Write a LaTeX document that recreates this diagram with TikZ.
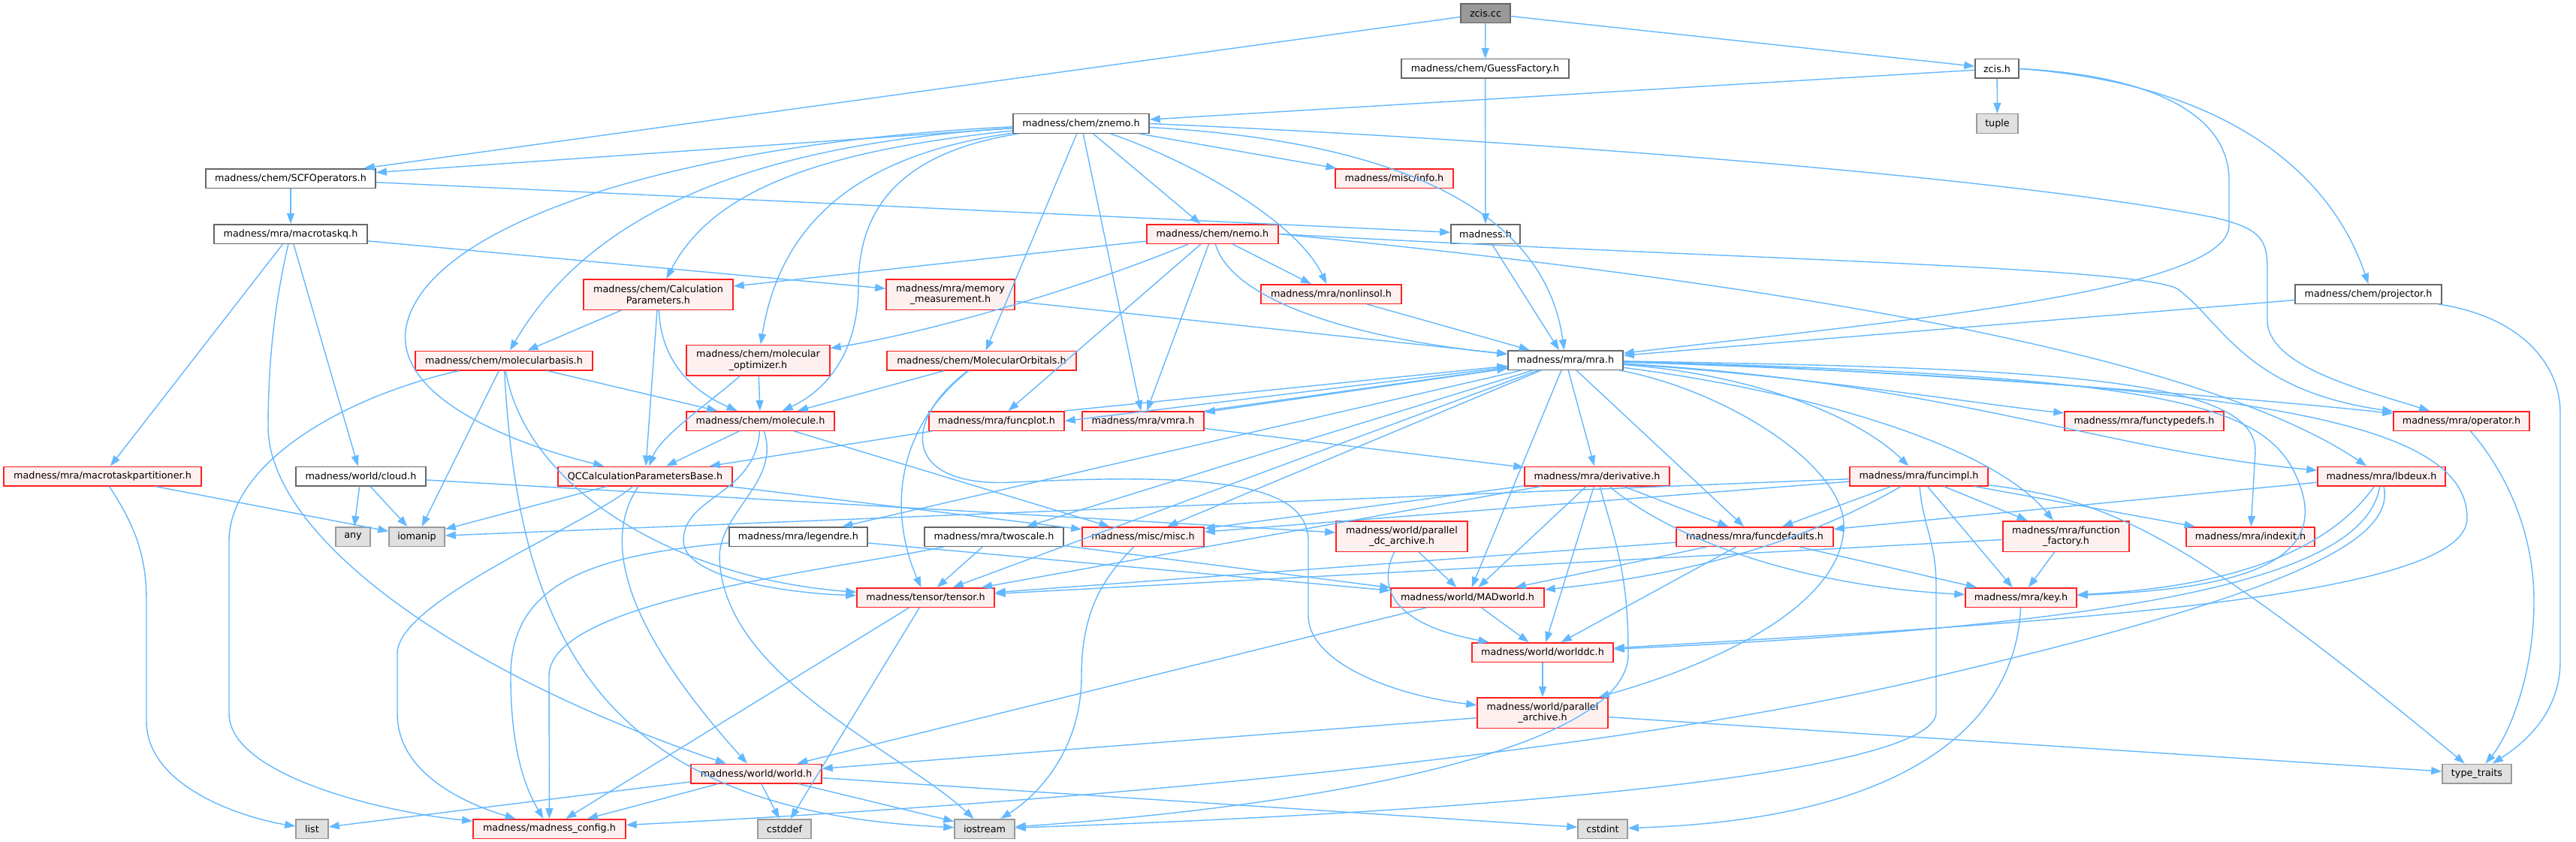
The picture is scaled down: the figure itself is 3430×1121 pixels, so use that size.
\documentclass[tikz,border=0pt]{standalone}
\usepackage{fontspec}
\setmainfont{DejaVu Sans}
\usetikzlibrary{arrows.meta}
\definecolor{edgec}{HTML}{63B8FF}
\definecolor{greyforty}{HTML}{666666}
\definecolor{greysixty}{HTML}{999999}
\definecolor{truncfill}{HTML}{FFF0F0}
\definecolor{extfill}{HTML}{E0E0E0}
\definecolor{truncdraw}{HTML}{FF2020}
\tikzset{
 nd/.style={draw=greyforty, fill=white, line width=1.5pt, minimum height=25.5pt, inner xsep=2pt, inner ysep=1pt, align=center, font=\fontsize{12.75pt}{14.5pt}\selectfont},
 rootnd/.style={nd, fill=greysixty},
 trunc/.style={nd, draw=truncdraw, fill=truncfill},
 ext/.style={nd, draw=greysixty, fill=extfill},
 two/.style={minimum height=40.5pt},
 edge/.style={draw=edgec, line width=1.4pt, -{Triangle[length=14pt,width=10pt]}},
}
\begin{document}
\begin{tikzpicture}[x=1pt,y=-1pt]
\useasboundingbox[fill=white] (0,0) rectangle (3430,1121);
% row 1-3
\node[rootnd, minimum width=66pt] (zciscc) at (1978,18) {zcis.cc};
\node[nd, minimum width=223pt] (guess) at (1977.5,91.5) {madness/chem/GuessFactory.h};
\node[nd, minimum width=58pt] (zcish) at (2659,91.5) {zcis.h};
\node[nd, minimum width=181pt] (znemo) at (1439.5,164.5) {madness/chem/znemo.h};
\node[ext, minimum width=55pt] (tuple) at (2659.5,164.5) {tuple};
\node[nd, minimum width=226pt] (scfop) at (387,237.5) {madness/chem/SCFOperators.h};
\node[trunc, minimum width=157pt] (info) at (1856.5,237.5) {madness/misc/info.h};
\node[nd, minimum width=204pt] (macrotaskq) at (387,311.5) {madness/mra/macrotaskq.h};
\node[trunc, minimum width=175pt] (nemo) at (1614.5,311.5) {madness/chem/nemo.h};
\node[nd, minimum width=92pt] (madnessh) at (1978,311.5) {madness.h};
\node[nd, minimum width=195pt] (projector) at (3153.5,391.5) {madness/chem/projector.h};
\node[trunc, two, minimum width=199pt] (calcparams) at (876.5,392) {madness/chem/Calculation\\Parameters.h};
\node[trunc, two, minimum width=171pt] (memmeas) at (1265.5,392) {madness/mra/memory\\\_measurement.h};
\node[trunc, minimum width=187pt] (nonlinsol) at (1772.5,391.5) {madness/mra/nonlinsol.h};
\node[trunc, minimum width=236pt] (molbasis) at (671,480) {madness/chem/molecularbasis.h};
\node[trunc, two, minimum width=191pt] (molopt) at (1009.5,479.5) {madness/chem/molecular\\\_optimizer.h};
\node[trunc, minimum width=252pt] (molorb) at (1307,480) {madness/chem/MolecularOrbitals.h};
\node[nd, minimum width=153pt] (mra) at (2084.5,479.5) {madness/mra/mra.h};
\node[trunc, minimum width=197pt] (molecule) at (1012.5,560.5) {madness/chem/molecule.h};
\node[trunc, minimum width=180pt] (funcplot) at (1327,560.5) {madness/mra/funcplot.h};
\node[trunc, minimum width=162pt] (vmra) at (1522,560.5) {madness/mra/vmra.h};
\node[trunc, minimum width=212pt] (functypedefs) at (2855,560.5) {madness/mra/functypedefs.h};
\node[trunc, minimum width=181pt] (operator) at (3277.5,560.5) {madness/mra/operator.h};
\node[trunc, minimum width=263pt] (mtpart) at (136.5,634) {madness/mra/macrotaskpartitioner.h};
\node[nd, minimum width=173pt] (cloud) at (480.5,634) {madness/world/cloud.h};
\node[trunc, minimum width=232pt] (qcbase) at (859,634) {QCCalculationParametersBase.h};
\node[trunc, minimum width=193pt] (derivative) at (2126.5,634) {madness/mra/derivative.h};
\node[trunc, minimum width=184pt] (funcimpl) at (2555,634) {madness/mra/funcimpl.h};
\node[trunc, minimum width=170pt] (lbdeux) at (3171,634) {madness/mra/lbdeux.h};
\node[ext, minimum width=46pt] (any) at (470,714.5) {any};
\node[ext, minimum width=74pt] (iomanip) at (555,714.5) {iomanip};
\node[nd, minimum width=184pt] (legendre) at (1063,714.5) {madness/mra/legendre.h};
\node[nd, minimum width=185pt] (twoscale) at (1323.5,714.5) {madness/mra/twoscale.h};
\node[trunc, minimum width=162pt] (misc) at (1522,714.5) {madness/misc/misc.h};
\node[trunc, two, minimum width=175pt] (pdcarchive) at (1866.5,714) {madness/world/parallel\\\_dc\_archive.h};
\node[trunc, minimum width=209pt] (funcdefaults) at (2336.5,714.5) {madness/mra/funcdefaults.h};
\node[trunc, two, minimum width=168pt] (funcfactory) at (2751,714) {madness/mra/function\\\_factory.h};
\node[trunc, minimum width=171pt] (indexit) at (2996.5,714.5) {madness/mra/indexit.h};
\node[trunc, minimum width=183pt] (tensor) at (1232.5,795.5) {madness/tensor/tensor.h};
\node[trunc, minimum width=204pt] (madworld) at (1954,795.5) {madness/world/MADworld.h};
\node[trunc, minimum width=148pt] (key) at (2691,795.5) {madness/mra/key.h};
\node[trunc, minimum width=188pt] (worlddc) at (2054,868.5) {madness/world/worlddc.h};
\node[trunc, two, minimum width=174pt] (parchive) at (2054,949) {madness/world/parallel\\\_archive.h};
\node[trunc, minimum width=174pt] (world) at (1007,1030) {madness/world/world.h};
\node[ext, minimum width=92pt] (typetraits) at (3298,1030) {type\_traits};
\node[ext, minimum width=43pt] (list) at (415.5,1103.5) {list};
\node[trunc, minimum width=203pt] (config) at (731.5,1103.5) {madness/madness\_config.h};
\node[ext, minimum width=71pt] (cstddef) at (1044.5,1103.5) {cstddef};
\node[ext, minimum width=80pt] (iostream) at (1311,1103.5) {iostream};
\node[ext, minimum width=66pt] (cstdint) at (2134,1103.5) {cstdint};

% ---- edges ----
\draw[edge] (zciscc) -- (guess);
\draw[edge] (zciscc) -- (scfop);
\draw[edge] (zciscc) -- (zcish);
\draw[edge] (guess) -- (madnessh);
\draw[edge] (zcish) -- (znemo);
\draw[edge] (zcish) -- (tuple);
\draw[edge] (zcish.east) .. controls (2860,100) and (2968,150) .. (2968,240) -- (2968,300) .. controls (2968,390) and (2500,430) .. (mra);
\draw[edge] (zcish.east) .. controls (2950,110) and (3100,220) .. (projector.north);
% znemo
\draw[edge] (znemo) -- (scfop);
\draw[edge] (znemo) .. controls (900,190) and (560,300) .. (540,440) .. controls (530,530) and (680,590) .. (qcbase);
\draw[edge] (znemo) .. controls (1050,190) and (800,260) .. (molbasis);
\draw[edge] (znemo) .. controls (1100,200) and (950,250) .. (calcparams);
\draw[edge] (znemo) .. controls (1150,205) and (1040,290) .. (molopt);
\draw[edge] (znemo) .. controls (1220,200) and (1143,260) .. (1143,380) .. controls (1143,470) and (1100,520) .. (molecule);
\draw[edge] (znemo) -- (molorb);
\draw[edge] (znemo) -- (vmra);
\draw[edge] (znemo) -- (nemo);
\draw[edge] (znemo) .. controls (1600,220) and (1730,300) .. (nonlinsol);
\draw[edge] (znemo) -- (info);
\draw[edge] (znemo.east) .. controls (2100,190) and (2700,240) .. (2950,290) .. controls (3012,305) and (3019,320) .. (3019,360) -- (3019,430) .. controls (3025,490) and (3150,520) .. (operator);
\draw[edge] (znemo) .. controls (1900,190) and (2060,300) .. (mra);
% scfop, macrotaskq
\draw[edge] (scfop) -- (macrotaskq);
\draw[edge] (scfop) -- (madnessh);
\draw[edge] (macrotaskq) -- (mtpart);
\draw[edge] (macrotaskq) -- (cloud);
\draw[edge] (macrotaskq) -- (memmeas);
\draw[edge] (macrotaskq) .. controls (362,420) and (357,500) .. (357,570) .. controls (360,720) and (620,900) .. (world);
% nemo
\draw[edge] (nemo) -- (calcparams);
\draw[edge] (nemo) .. controls (1450,380) and (1250,440) .. (molopt);
\draw[edge] (nemo) -- (funcplot);
\draw[edge] (nemo) -- (vmra);
\draw[edge] (nemo) .. controls (1640,400) and (1800,450) .. (mra);
\draw[edge] (nemo) -- (nonlinsol);
\draw[edge] (nemo.east) .. controls (2300,345) and (2850,355) .. (2900,385) .. controls (2960,430) and (2990,520) .. (operator);
\draw[edge] (nemo.east) .. controls (2200,360) and (2900,450) .. (lbdeux);
\draw[edge] (madnessh) -- (mra);
\draw[edge] (projector) -- (mra);
\draw[edge] (projector) .. controls (3350,420) and (3409,480) .. (3409,550) -- (3409,880) .. controls (3409,950) and (3360,990) .. (typetraits);
% row calcparams
\draw[edge] (calcparams) -- (molbasis);
\draw[edge] (calcparams) -- (qcbase);
\draw[edge] (calcparams) .. controls (880,480) and (920,520) .. (molecule);
\draw[edge] (memmeas) -- (mra);
\draw[edge] (nonlinsol) -- (mra);
% molbasis
\draw[edge] (molbasis) -- (molecule);
\draw[edge] (molbasis) -- (iomanip);
\draw[edge] (molbasis) .. controls (450,530) and (305,620) .. (305,720) -- (305,950) .. controls (305,1030) and (500,1080) .. (config);
\draw[edge] (molbasis) .. controls (700,650) and (900,770) .. (tensor);
\draw[edge] (molbasis) .. controls (690,850) and (800,1080) .. (iostream);
% molopt, molorb
\draw[edge] (molopt) -- (molecule);
\draw[edge] (molopt) .. controls (940,540) and (880,580) .. (qcbase);
\draw[edge] (molorb) -- (molecule);
\draw[edge] (molorb) .. controls (1180,580) and (1190,700) .. (tensor);
\draw[edge] (molorb) .. controls (1200,560) and (1200,650) .. (1350,642) .. controls (1600,630) and (1742,640) .. (1742,720) -- (1742,820) .. controls (1742,880) and (1850,925) .. (parchive);
% molecule
\draw[edge] (molecule) -- (qcbase);
\draw[edge] (molecule) -- (misc);
\draw[edge] (molecule) .. controls (1005,660) and (910,660) .. (910,720) .. controls (910,770) and (1050,790) .. (tensor);
\draw[edge] (molecule) .. controls (1040,640) and (960,680) .. (958,740) .. controls (960,900) and (1200,1000) .. (iostream);
% funcplot, vmra, mra cycles
\draw[edge] (funcplot) -- (qcbase);
\draw[edge] (funcplot.north east) -- (mra);
\draw[edge] (vmra.north east) -- (mra);
\draw[edge] (vmra) -- (derivative);
\draw[edge] (mra) -- (funcplot.east);
\draw[edge] (mra) -- (vmra);
% mra outgoing
\draw[edge] (mra) -- (misc);
\draw[edge] (mra) -- (tensor);
\draw[edge] (mra) -- (derivative);
\draw[edge] (mra) -- (legendre);
\draw[edge] (mra) -- (twoscale);
\draw[edge] (mra) -- (madworld);
\draw[edge] (mra) -- (funcdefaults);
\draw[edge] (mra) .. controls (2350,500) and (2480,560) .. (funcimpl);
\draw[edge] (mra) .. controls (2400,500) and (2650,540) .. (functypedefs);
\draw[edge] (mra) .. controls (2500,490) and (3000,530) .. (operator);
\draw[edge] (mra) .. controls (2600,510) and (2800,600) .. (lbdeux);
\draw[edge] (mra) .. controls (2700,490) and (3003,500) .. (3003,600) -- (indexit);
\draw[edge] (mra) .. controls (2900,500) and (3020,540) .. (3060,640) .. controls (3110,760) and (2950,785) .. (key);
\draw[edge] (mra) .. controls (3000,510) and (3285,560) .. (3285,690) .. controls (3285,800) and (2700,830) .. (worlddc);
\draw[edge] (mra) .. controls (2300,520) and (2455,620) .. (2455,700) .. controls (2455,800) and (2300,880) .. (parchive);
\draw[edge] (mra) .. controls (2400,520) and (2650,590) .. (funcfactory);
% misc, derivative, funcimpl
\draw[edge] (misc) .. controls (1480,760) and (1440,800) .. (1440,900) .. controls (1440,1000) and (1380,1060) .. (iostream);
\draw[edge] (derivative) -- (misc);
\draw[edge] (derivative) -- (tensor);
\draw[edge] (derivative) -- (madworld);
\draw[edge] (derivative) -- (worlddc);
\draw[edge] (derivative) .. controls (2230,720) and (2400,780) .. (key);
\draw[edge] (derivative) -- (funcdefaults);
\draw[edge] (derivative) .. controls (2150,720) and (2168,760) .. (2168,870) .. controls (2170,990) and (1800,1070) .. (iostream);
\draw[edge] (funcimpl) -- (misc);
\draw[edge] (funcimpl) -- (iomanip);
\draw[edge] (funcimpl) -- (funcdefaults);
\draw[edge] (funcimpl) -- (funcfactory);
\draw[edge] (funcimpl) -- (indexit);
\draw[edge] (funcimpl) -- (key);
\draw[edge] (funcimpl) .. controls (2440,700) and (2300,760) .. (madworld);
\draw[edge] (funcimpl) .. controls (2800,665) and (2900,700) .. (typetraits);
\draw[edge] (funcimpl) .. controls (2560,700) and (2578,720) .. (2578,780) -- (2578,950) .. controls (2570,1030) and (2000,1080) .. (iostream);
\draw[edge] (operator) .. controls (3330,620) and (3374,700) .. (3374,800) .. controls (3374,900) and (3340,980) .. (typetraits);
% funcdefaults, funcfactory, lbdeux
\draw[edge] (funcdefaults) -- (tensor);
\draw[edge] (funcdefaults) -- (madworld);
\draw[edge] (funcdefaults) -- (key);
\draw[edge] (funcdefaults) -- (worlddc);
\draw[edge] (funcfactory) -- (key);
\draw[edge] (funcfactory) -- (tensor);
\draw[edge] (lbdeux) -- (funcdefaults);
\draw[edge] (lbdeux) .. controls (3110,720) and (3000,780) .. (key);
\draw[edge] (lbdeux) .. controls (3150,760) and (2900,830) .. (worlddc);
\draw[edge] (lbdeux) .. controls (3190,720) and (3050,790) .. (2580,900) .. controls (2000,1040) and (1000,1090) .. (config);
% pdcarchive, cloud, mtpart, qcbase
\draw[edge] (pdcarchive) -- (madworld);
\draw[edge] (pdcarchive) .. controls (1835,780) and (1850,830) .. (worlddc);
\draw[edge] (cloud) -- (any);
\draw[edge] (cloud) -- (iomanip);
\draw[edge] (cloud) -- (pdcarchive);
\draw[edge] (mtpart) -- (iomanip);
\draw[edge] (mtpart) .. controls (180,700) and (195,740) .. (195,800) -- (195,960) .. controls (195,1050) and (330,1090) .. (list);
\draw[edge] (qcbase) -- (iomanip);
\draw[edge] (qcbase) .. controls (780,700) and (529,800) .. (529,870) -- (529,950) .. controls (529,1030) and (620,1070) .. (config);
\draw[edge] (qcbase) .. controls (815,700) and (800,800) .. (world);
\draw[edge] (qcbase) -- (misc);
% legendre, twoscale
\draw[edge] (legendre) .. controls (780,740) and (680,780) .. (680,900) .. controls (680,1000) and (700,1050) .. (config);
\draw[edge] (legendre) -- (madworld);
\draw[edge] (twoscale) .. controls (1100,760) and (731,800) .. (731,900) -- (config);
\draw[edge] (twoscale) -- (tensor);
\draw[edge] (twoscale) -- (madworld);
% bottom
\draw[edge] (tensor) -- (config);
\draw[edge] (tensor) -- (cstddef);
\draw[edge] (madworld) -- (world);
\draw[edge] (madworld) -- (worlddc);
\draw[edge] (worlddc) -- (parchive);
\draw[edge] (parchive) -- (typetraits);
\draw[edge] (parchive) -- (world);
\draw[edge] (key) .. controls (2685,950) and (2560,1090) .. (cstdint);
\draw[edge] (world) -- (list);
\draw[edge] (world) -- (config);
\draw[edge] (world) -- (cstddef);
\draw[edge] (world) -- (iostream);
\draw[edge] (world) -- (cstdint);
\end{tikzpicture}
\end{document}
